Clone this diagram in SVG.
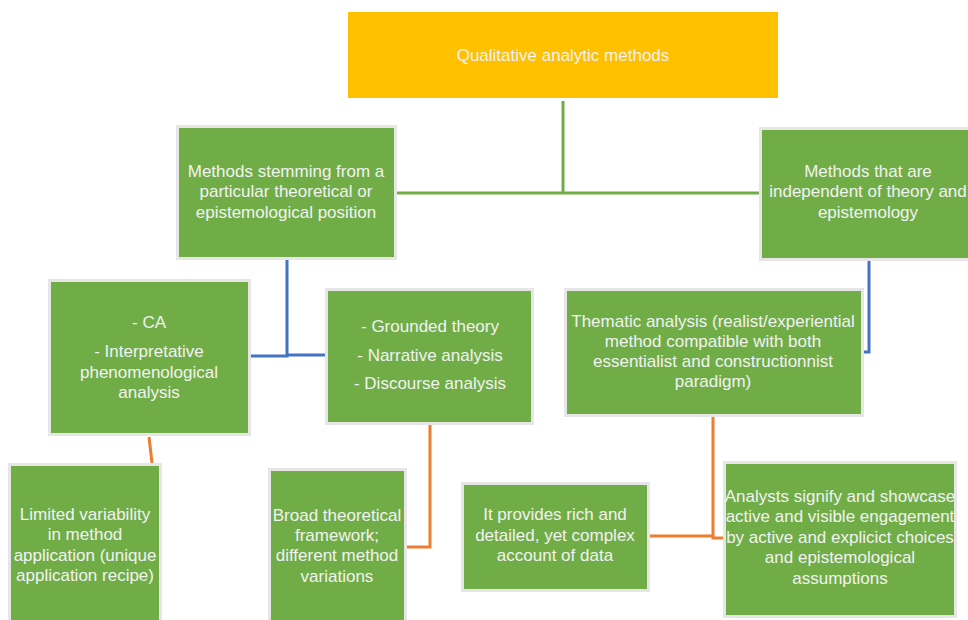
<svg xmlns="http://www.w3.org/2000/svg" width="968" height="620" viewBox="0 0 968 620">
  <style>
    .box { fill: #70AD47; stroke: #E7E6E6; stroke-width: 3; }
    .top { fill: #FFC000; }
    .lbl { font-family: "Liberation Sans", Arial, sans-serif; font-size: 17px; fill: #F2F2F2; text-anchor: middle; }
    .green { stroke: #70AD47; stroke-width: 3; fill: none; }
    .blue { stroke: #4472C4; stroke-width: 3; fill: none; }
    .orange { stroke: #ED7D31; stroke-width: 3; fill: none; }
  </style>
  <rect width="968" height="620" fill="#FFFFFF"/>

  <g id="connectors">
    <polyline class="green" points="563,101 563,193"/>
    <polyline class="green" points="397,193 760,193"/>
    <polyline class="blue" points="287,260 287,356 250,356"/>
    <polyline class="blue" points="287,355 326,355"/>
    <polyline class="blue" points="869,261 869,352 863,352"/>
    <line class="orange" x1="149" y1="437" x2="152" y2="463"/>
    <polyline class="orange" points="430,424 430,547 406,547"/>
    <polyline class="orange" points="713,417 713,538 723,538"/>
    <polyline class="orange" points="649,536 713,536"/>
  </g>

  <g id="root">
    <rect class="top" x="348" y="12" width="430" height="86"/>
    <text class="lbl" x="563" y="61">Qualitative analytic methods</text>
  </g>

  <g id="theory-bound">
    <rect class="box" x="177.5" y="126.5" width="218" height="132"/>
    <text class="lbl"><tspan x="286" y="177">Methods stemming from a</tspan><tspan x="286" y="197">particular theoretical or</tspan><tspan x="286" y="218">epistemological position</tspan></text>
  </g>

  <g id="theory-independent">
    <rect class="box" x="760.5" y="128.5" width="218" height="131"/>
    <text class="lbl"><tspan x="868" y="177">Methods that are</tspan><tspan x="868" y="197">independent of theory and</tspan><tspan x="868" y="218">epistemology</tspan></text>
  </g>

  <g id="ca-ipa">
    <rect class="box" x="49.5" y="280.5" width="200" height="154"/>
    <text class="lbl"><tspan x="149" y="328">- CA</tspan><tspan x="149" y="357">- Interpretative</tspan><tspan x="149" y="378">phenomenological</tspan><tspan x="149" y="398">analysis</tspan></text>
  </g>

  <g id="gt-na-da">
    <rect class="box" x="326.5" y="289.5" width="206" height="134"/>
    <text class="lbl"><tspan x="430" y="332">- Grounded theory</tspan><tspan x="430" y="361">- Narrative analysis</tspan><tspan x="430" y="389">- Discourse analysis</tspan></text>
  </g>

  <g id="thematic">
    <rect class="box" x="565.5" y="289.5" width="297" height="126"/>
    <text class="lbl"><tspan x="713" y="327">Thematic analysis (realist/experiential</tspan><tspan x="713" y="347">method compatible with both</tspan><tspan x="713" y="367">essentialist and constructionnist</tspan><tspan x="713" y="387">paradigm)</tspan></text>
  </g>

  <g id="limited">
    <rect class="box" x="9.5" y="464.5" width="151" height="160"/>
    <text class="lbl"><tspan x="85" y="520">Limited variability</tspan><tspan x="85" y="540">in method</tspan><tspan x="85" y="561">application (unique</tspan><tspan x="85" y="581">application recipe)</tspan></text>
  </g>

  <g id="broad">
    <rect class="box" x="269.5" y="469.5" width="136" height="155"/>
    <text class="lbl"><tspan x="337" y="521">Broad theoretical</tspan><tspan x="337" y="541">framework;</tspan><tspan x="337" y="561">different method</tspan><tspan x="337" y="582">variations</tspan></text>
  </g>

  <g id="rich">
    <rect class="box" x="462.5" y="483.5" width="186" height="107"/>
    <text class="lbl"><tspan x="555" y="520">It provides rich and</tspan><tspan x="555" y="541">detailed, yet complex</tspan><tspan x="555" y="561">account of data</tspan></text>
  </g>

  <g id="analysts">
    <rect class="box" x="724.5" y="462.5" width="231" height="154"/>
    <text class="lbl"><tspan x="840" y="502">Analysts signify and showcase</tspan><tspan x="840" y="522">active and visible engagement</tspan><tspan x="840" y="543">by active and explicict choices</tspan><tspan x="840" y="563">and epistemological</tspan><tspan x="840" y="584">assumptions</tspan></text>
  </g>
</svg>
